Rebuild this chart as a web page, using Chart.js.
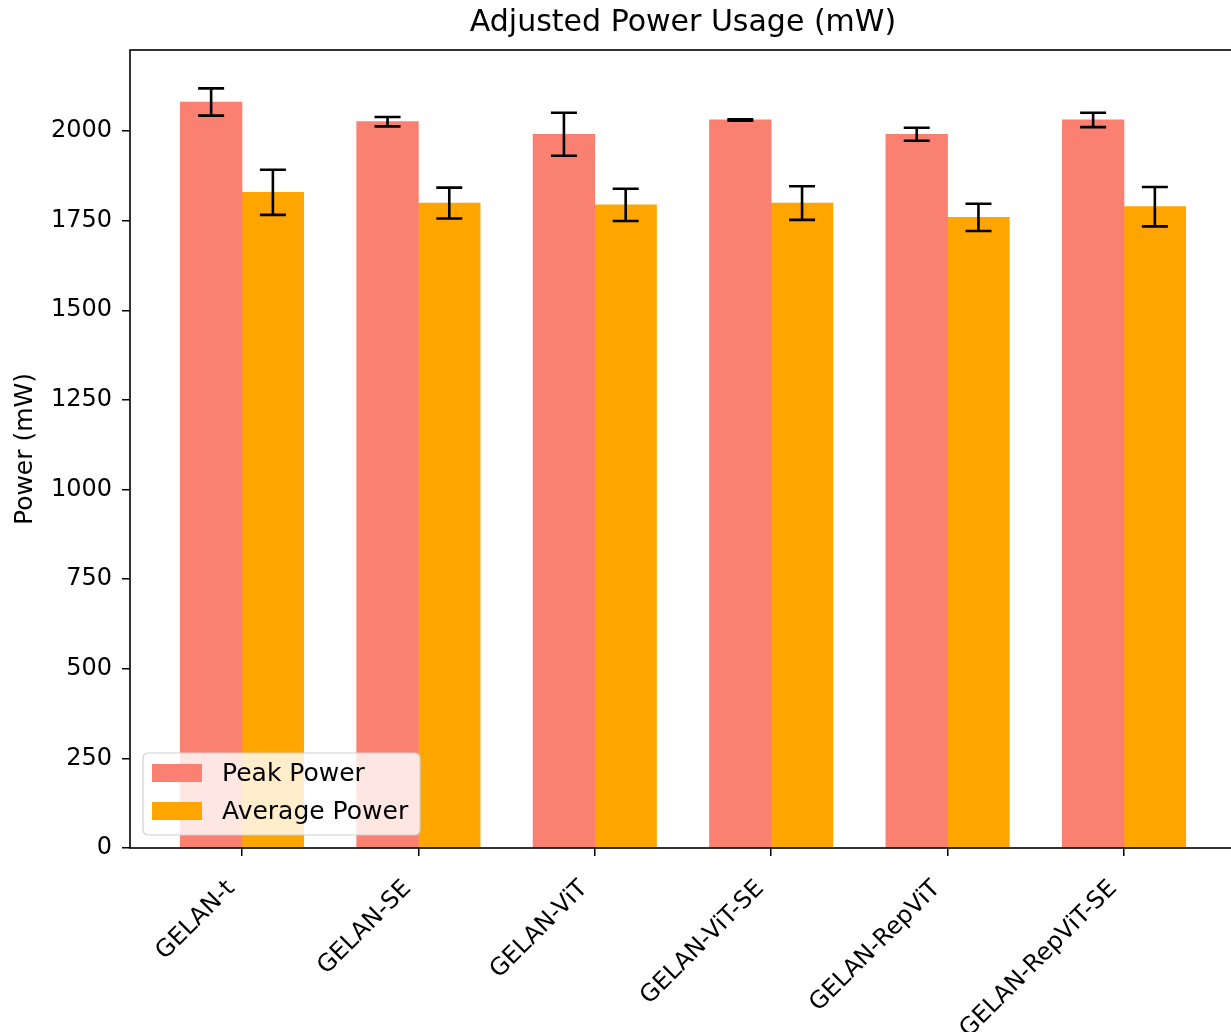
<!DOCTYPE html>
<html>
<head>
<meta charset="utf-8">
<script src="https://cdn.jsdelivr.net/npm/chart.js@4"></script>
<style>
  html, body { margin: 0; padding: 0; background: #fff; overflow: hidden; }
  #wrap { width: 1236px; height: 1032px; }
</style>
</head>
<body>
<div id="wrap"><canvas id="powerChart" width="1236" height="1032"></canvas></div>
<script>
// data
const models = ["GELAN-t", "GELAN-SE", "GELAN-ViT", "GELAN-ViT-SE", "GELAN-RepViT", "GELAN-RepViT-SE"];
const peakPower = [2081, 2026, 1991, 2031, 1991, 2031];
const peakErr = [38, 13, 60, 2, 18, 20];
const avgPower = [1829, 1799, 1794, 1799, 1759, 1789];
const avgErr = [63, 43, 45, 47, 38, 55];
const yTicks = [0, 250, 500, 750, 1000, 1250, 1500, 1750, 2000];

const FONT = "DejaVu Sans";
const BAR_W = 0.35;

// error bars drawn through the chart scales
const errorBarPlugin = {
  id: "errorBars",
  afterDatasetsDraw(chart) {
    const ctx = chart.ctx;
    const xs = chart.scales.x, ys = chart.scales.y;
    ctx.save();
    ctx.strokeStyle = "#000";
    ctx.lineWidth = 2.6;
    chart.data.datasets.forEach((ds) => {
      ds.data.forEach((pt, i) => {
        const e = ds.errors[i];
        const x = xs.getPixelForValue(pt.x);
        const yTop = ys.getPixelForValue(pt.y + e);
        const yBot = ys.getPixelForValue(pt.y - e);
        ctx.beginPath();
        ctx.moveTo(x, yTop); ctx.lineTo(x, yBot);
        ctx.moveTo(x - 13, yTop); ctx.lineTo(x + 13, yTop);
        ctx.moveTo(x - 13, yBot); ctx.lineTo(x + 13, yBot);
        ctx.stroke();
      });
    });
    ctx.restore();
  }
};

// axes frame + legend box in lower left, matplotlib style
const framePlugin = {
  id: "frameLegend",
  afterDraw(chart) {
    const ctx = chart.ctx;
    const a = chart.chartArea;
    ctx.save();
    ctx.strokeStyle = "#000";
    ctx.lineWidth = 1.6;
    ctx.strokeRect(a.left, a.top, a.right - a.left, a.bottom - a.top);

    // legend
    const bx = a.left + 13, bw = 277, bh = 82, by = a.bottom - 13 - bh;
    ctx.beginPath();
    ctx.roundRect(bx, by, bw, bh, 5);
    ctx.fillStyle = "rgba(255,255,255,0.8)";
    ctx.fill();
    ctx.strokeStyle = "#d0d0d0";
    ctx.lineWidth = 1.2;
    ctx.stroke();

    ctx.font = "25px '" + FONT + "'";
    ctx.textBaseline = "middle";
    chart.data.datasets.forEach((ds, i) => {
      const cy = by + 20 + i * 38;
      ctx.fillStyle = ds.backgroundColor;
      ctx.fillRect(bx + 9, cy - 9, 50, 18);
      ctx.fillStyle = "#000";
      ctx.fillText(ds.label, bx + 79, cy + 1);
    });
    ctx.restore();
  }
};

new Chart(document.getElementById("powerChart").getContext("2d"), {
  type: "bar",
  data: {
    datasets: [
      {
        label: "Peak Power",
        data: peakPower.map((v, i) => ({ x: i - BAR_W / 2, y: v })),
        errors: peakErr,
        backgroundColor: "#FA8072",
        grouped: false,
        barThickness: 61.7,
      },
      {
        label: "Average Power",
        data: avgPower.map((v, i) => ({ x: i + BAR_W / 2, y: v })),
        errors: avgErr,
        backgroundColor: "#FFA500",
        grouped: false,
        barThickness: 61.7,
      },
    ],
  },
  options: {
    responsive: false,
    animation: false,
    layout: { padding: 0 },
    plugins: {
      legend: { display: false },
      tooltip: { enabled: false },
      title: {
        display: true,
        fullSize: false,
        text: "Adjusted Power Usage (mW)",
        color: "#000",
        font: { family: FONT, size: 30, weight: "normal" },
        padding: { top: 5, bottom: 9 },
      },
    },
    scales: {
      x: {
        type: "linear",
        min: -0.635,
        max: 5.635,
        offset: false,
        afterBuildTicks: (scale) => { scale.ticks = models.map((_, i) => ({ value: i })); },
        afterFit: (scale) => { scale.height = 184; },
        grid: { display: true, drawOnChartArea: false, tickLength: 8, tickColor: "#000", lineWidth: 1.5, offset: false },
        border: { display: false },
        ticks: {
          color: "#000",
          font: { family: FONT, size: 24 },
          minRotation: 45,
          maxRotation: 45,
          padding: 8,
          autoSkip: false,
          callback: (v) => models[v] + "  ",
        },
      },
      y: {
        min: 0,
        max: 2226,
        afterBuildTicks: (scale) => { scale.ticks = yTicks.map((v) => ({ value: v })); },
        afterFit: (scale) => { scale.width = 130; },
        grid: { display: true, drawOnChartArea: false, tickLength: 8, tickColor: "#000", lineWidth: 1.5 },
        border: { display: false },
        ticks: { color: "#000", font: { family: FONT, size: 24 }, padding: 10, callback: (v) => String(v) },
        title: {
          display: true,
          text: "Power (mW)",
          color: "#000",
          font: { family: FONT, size: 25 },
          padding: { top: 10, bottom: 0 },
        },
      },
    },
  },
  plugins: [errorBarPlugin, framePlugin],
});
</script>
</body>
</html>
